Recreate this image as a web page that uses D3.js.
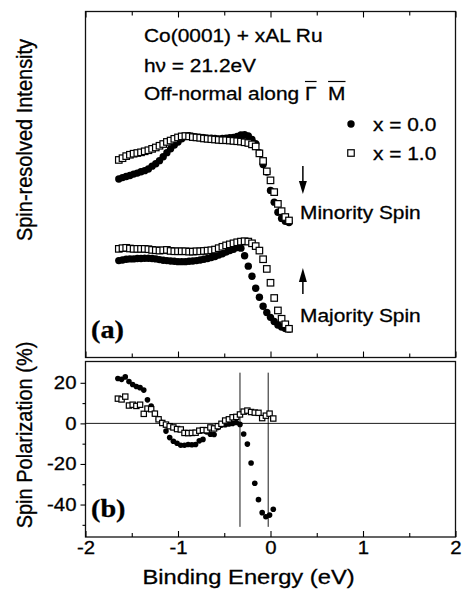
<!DOCTYPE html>
<meta charset="utf-8">
<script src="https://d3js.org/d3.v7.min.js"></script>
<style>
  body { margin: 0; background: #fff; }
  text { font-family: "Liberation Sans", Arial, sans-serif; fill: #000; stroke: #000; stroke-width: 0.3px; }
</style>
<div id="chart"></div>
<script>

// ---- data ----
// binding energy (eV) of the spin-resolved spectra, panel (a)
var energyTop = [-1.64, -1.60, -1.56, -1.52, -1.48, -1.44, -1.40, -1.36, -1.32, -1.28,
  -1.24, -1.20, -1.16, -1.12, -1.08, -1.04, -1.00, -0.96, -0.92, -0.88,
  -0.84, -0.80, -0.76, -0.72, -0.68, -0.64, -0.60, -0.56, -0.52, -0.48,
  -0.44, -0.40, -0.36, -0.32, -0.28, -0.24, -0.20, -0.16, -0.12, -0.08,
  -0.04, 0.00, 0.04, 0.08, 0.12, 0.16, 0.20];

// intensities (arb. units, 0-100 over the panel height)
var minorityX0 = [51.6, 52.0, 52.3, 52.6, 53.0, 53.3, 53.7, 54.0, 54.5, 55.3,
  56.0, 56.9, 58.0, 59.2, 60.3, 61.4, 62.3, 63.2, 63.9, 64.1,
  63.9, 63.7, 63.6, 63.5, 63.4, 63.4, 63.3, 63.2, 63.3, 63.4,
  63.5, 63.6, 63.9, 64.3, 64.4, 64.0, 63.0, 61.8, 59.2, 55.8,
  53.6, 48.3, 44.9, 42.0, 40.2, 39.4, 39.0];
var minorityX1 = [57.1, 57.6, 58.2, 58.6, 58.9, 59.1, 59.3, 59.6, 59.9, 60.3,
  60.7, 61.2, 61.7, 62.3, 62.7, 63.2, 63.6, 63.9, 64.0, 63.9,
  63.7, 63.6, 63.5, 63.3, 63.2, 63.1, 63.0, 62.9, 62.8, 62.8,
  62.7, 62.6, 62.5, 62.4, 62.2, 62.0, 61.6, 61.0, 59.0, 56.8,
  53.8, 51.2, 47.8, 44.4, 42.3, 40.6, 39.6];
var majorityX0 = [28.0, 28.2, 28.4, 28.5, 28.5, 28.6, 28.6, 28.7, 28.7, 28.6,
  28.5, 28.3, 28.1, 28.0, 27.9, 27.8, 27.7, 27.7, 27.7, 27.8,
  27.9, 28.0, 28.2, 28.4, 28.6, 28.9, 29.2, 29.6, 30.0, 30.5,
  30.9, 31.3, 31.8, 31.6, 29.4, 26.4, 23.5, 20.0, 17.4, 14.8,
  13.0, 11.6, 10.4, 9.4, 8.8, 8.4, 8.2];
var majorityX1 = [31.4, 31.6, 31.7, 31.5, 31.4, 31.4, 31.4, 31.4, 31.3, 31.1,
  31.0, 30.9, 31.0, 31.1, 30.8, 30.7, 30.7, 30.7, 30.7, 30.6,
  30.6, 30.7, 30.7, 30.8, 30.9, 31.0, 31.2, 31.6, 32.0, 32.4,
  32.7, 33.0, 33.3, 33.5, 33.6, 33.5, 33.0, 32.2, 30.9, 28.4,
  25.6, 21.6, 17.2, 13.6, 11.2, 9.6, 8.3];

// panel (b): spin polarization (%)
var energyBottom = [-1.65, -1.61, -1.57, -1.53, -1.49, -1.45, -1.41, -1.37, -1.33, -1.29,
  -1.25, -1.21, -1.17, -1.13, -1.09, -1.05, -1.01, -0.97, -0.93, -0.89,
  -0.85, -0.81, -0.77, -0.73, -0.69, -0.65, -0.61, -0.57, -0.53, -0.49,
  -0.45, -0.41, -0.37, -0.33, -0.29, -0.25, -0.21, -0.17, -0.13, -0.09,
  -0.05, -0.01, 0.03];
var polX0 = [22.1, 21.7, 22.9, 20.6, 19.2, 18.2, 17.6, 16.4, 11.6, 8.6,
  4.8, 2.0, 0.4, -3.8, -7.0, -8.8, -9.8, -10.8, -10.8, -10.4,
  -10.5, -10.4, -8.6, -7.9, -4.2, -5.3, -5.5, -2.0, -0.9, -0.7,
  -0.3, 0.0, 0.4, -0.5, -5.2, -10.2, -19.5, -29.5, -37.6, -44.0,
  -46.0, -45.2, -42.3];
var polX1 = [12.2, 11.8, 13.2, 8.8, 9.2, 8.6, 9.2, 4.7, 7.3, 7.0,
  4.8, 2.0, 0.2, -0.6, -1.4, -2.0, -2.8, -3.0, -4.7, -4.8,
  -4.7, -4.6, -3.6, -3.3, -3.4, -2.0, -2.5, -1.4, -0.2, 1.4,
  2.0, 3.0, 3.2, 4.4, 5.8, 6.3, 5.6, 5.3, 5.2, 2.6,
  3.8, 4.8, 2.4];

var xTicks = [-2, -1, 0, 1, 2];
var xMinorTicks = [-1.5, -0.5, 0.5, 1.5];
var yTicks = [20, 0, -20, -40];
var yMinorTicks = [10, -10, -30, -50];
var markerLines = [-0.33, -0.025];   // vertical guide lines in (b)
var legendLabels = ["x = 0.0", "x = 1.0"];

// ---- layout ----
var width = 464, height = 596;
var sx = 1.13;   // the scanned figure is a little wider than tall
var left = 85.5, right = 455.5;
var topA = 11.5, botA = 357.5, topB = 361.5, botB = 537;

var svg = d3.select("#chart").append("svg")
  .attr("width", width)
  .attr("height", height);

var x = d3.scaleLinear().domain([-2, 2]).range([left, right]);
var yA = d3.scaleLinear().domain([0, 100]).range([botA, topA]);
var yB = d3.scaleLinear().domain([-56, 30.5]).range([botB, topB]);

// text helper: horizontally stretched text
function label(g, px, py, txt, size, anchor) {
  return g.append("text")
    .attr("transform", "translate(" + px + "," + py + ") scale(" + sx + ",1)")
    .attr("text-anchor", anchor || "start")
    .style("font-size", size + "px")
    .text(txt);
}

function ticks(g, axis, vals, len) {
  g.call(axis.tickValues(vals).tickSizeInner(len).tickSizeOuter(0).tickFormat(""));
  g.select(".domain").remove();
  g.selectAll(".tick line").attr("stroke", "#000").attr("stroke-width", 1.1);
}

// ---- panel (a) ----
svg.append("rect")
  .attr("x", left).attr("y", topA)
  .attr("width", right - left).attr("height", botA - topA)
  .attr("fill", "none").attr("stroke", "#111").attr("stroke-width", 1.3);

ticks(svg.append("g").attr("transform", "translate(0," + topA + ")"), d3.axisTop(x), xTicks, -6);
ticks(svg.append("g").attr("transform", "translate(0," + topA + ")"), d3.axisTop(x), xMinorTicks, -4);
ticks(svg.append("g").attr("transform", "translate(0," + botA + ")"), d3.axisBottom(x), xTicks, -6);
ticks(svg.append("g").attr("transform", "translate(0," + botA + ")"), d3.axisBottom(x), xMinorTicks, -4);

var circleA = 3.7, squareA = 6.5;

function dots(g, xs, ys, yScale, r) {
  g.append("g").selectAll("circle")
    .data(ys).enter().append("circle")
      .attr("cx", function(d, i) { return x(xs[i]); })
      .attr("cy", function(d) { return yScale(d); })
      .attr("r", r)
      .attr("fill", "#000");
}
function squares(g, xs, ys, yScale, s) {
  g.append("g").selectAll("rect")
    .data(ys).enter().append("rect")
      .attr("x", function(d, i) { return x(xs[i]) - s / 2; })
      .attr("y", function(d) { return yScale(d) - s / 2; })
      .attr("width", s).attr("height", s)
      .attr("fill", "#fff").attr("stroke", "#000").attr("stroke-width", 1.2);
}

dots(svg, energyTop, minorityX0, yA, circleA);
squares(svg, energyTop, minorityX1, yA, squareA);
dots(svg, energyTop, majorityX0, yA, circleA);
squares(svg, energyTop, majorityX1, yA, squareA);

// annotation text
label(svg, 144, 42, "Co(0001) + xAL Ru", 18.5);
label(svg, 144, 72, "h\u03bd = 21.2eV", 18.5);

var line3 = svg.append("g").attr("transform", "translate(144,100) scale(" + sx + ",1)");
var t3 = line3.append("text").style("font-size", "18.5px");
t3.append("tspan").text("Off-normal along ");
var gam = t3.append("tspan").text("\u0393");
t3.append("tspan").text("\u00a0\u00a0");
var em = t3.append("tspan").text("M");
[gam, em].forEach(function(s) {
  var b = s.node().getBBox();
  line3.append("line")
    .attr("x1", b.x).attr("x2", b.x + b.width)
    .attr("y1", -18.5).attr("y2", -18.5)
    .attr("stroke", "#000").attr("stroke-width", 1.2);
});

// legend
svg.append("circle").attr("cx", 351).attr("cy", 124).attr("r", circleA).attr("fill", "#000");
svg.append("rect").attr("x", 351 - squareA / 2).attr("y", 153 - squareA / 2)
  .attr("width", squareA).attr("height", squareA)
  .attr("fill", "#fff").attr("stroke", "#000").attr("stroke-width", 1.2);
label(svg, 373, 130.5, legendLabels[0], 18.5);
label(svg, 373, 159.5, legendLabels[1], 18.5);

// spin arrows
var ax = x(0.35);
svg.append("line").attr("x1", ax).attr("x2", ax).attr("y1", 166).attr("y2", 182)
  .attr("stroke", "#000").attr("stroke-width", 1.5);
svg.append("path").attr("d", "M" + (ax - 4) + ",181 L" + (ax + 4) + ",181 L" + ax + ",194 Z").attr("fill", "#000");
svg.append("line").attr("x1", ax).attr("x2", ax).attr("y1", 281).attr("y2", 294)
  .attr("stroke", "#000").attr("stroke-width", 1.5);
svg.append("path").attr("d", "M" + (ax - 4) + ",282 L" + (ax + 4) + ",282 L" + ax + ",268 Z").attr("fill", "#000");
label(svg, 300, 219, "Minority Spin", 18.5);
label(svg, 300, 322, "Majority Spin", 18.5);

label(svg, 91, 338, "(a)", 25).style("font-family", "'Liberation Serif', 'Times New Roman', serif").style("font-weight", "bold");

// ---- panel (b) ----
svg.append("rect")
  .attr("x", left).attr("y", topB)
  .attr("width", right - left).attr("height", botB - topB)
  .attr("fill", "none").attr("stroke", "#111").attr("stroke-width", 1.3);

svg.append("line")
  .attr("x1", left).attr("x2", right)
  .attr("y1", yB(0)).attr("y2", yB(0))
  .attr("stroke", "#000").attr("stroke-width", 0.9);

svg.append("g").selectAll("line")
  .data(markerLines).enter().append("line")
    .attr("x1", function(d) { return x(d); })
    .attr("x2", function(d) { return x(d); })
    .attr("y1", yB(25)).attr("y2", yB(-51))
    .attr("stroke", "#000").attr("stroke-width", 0.9);

var xAxis = svg.append("g").attr("transform", "translate(0," + botB + ")")
  .call(d3.axisBottom(x).tickValues(xTicks).tickSizeInner(-6).tickSizeOuter(0)
    .tickPadding(4).tickFormat(function(d) { return String(d); }));
xAxis.select(".domain").remove();
ticks(svg.append("g").attr("transform", "translate(0," + botB + ")"), d3.axisBottom(x), xMinorTicks, -4);

var yAxis = svg.append("g").attr("transform", "translate(" + left + ",0)")
  .call(d3.axisLeft(yB).tickValues(yTicks).tickSizeInner(5).tickSizeOuter(0)
    .tickPadding(3).tickFormat(function(d) { return String(d); }));
yAxis.select(".domain").remove();
ticks(svg.append("g").attr("transform", "translate(" + left + ",0)"), d3.axisLeft(yB), yMinorTicks, 3);

[xAxis, yAxis].forEach(function(a) {
  a.selectAll(".tick line").attr("stroke", "#000").attr("stroke-width", 1.1);
  a.selectAll(".tick text")
    .attr("fill", "#000")
    .style("font-size", "18px")
    .style("font-family", "'Liberation Sans', Arial, sans-serif")
    .attr("transform", "scale(" + sx + ",1)");
});

dots(svg, energyBottom, polX0, yB, 2.8);
squares(svg, energyBottom, polX1, yB, 5.3);

label(svg, 91, 517, "(b)", 25).style("font-family", "'Liberation Serif', 'Times New Roman', serif").style("font-weight", "bold");

// axis titles
label(svg, (left + right) / 2 - 22, 584, "Binding Energy (eV)", 21, "middle");

svg.append("text")
  .attr("transform", "translate(32,140) scale(" + sx + ",1) rotate(-90)")
  .attr("text-anchor", "middle")
  .style("font-size", "20px")
  .text("Spin-resolved Intensity");
svg.append("text")
  .attr("transform", "translate(32,435) scale(" + sx + ",1) rotate(-90)")
  .attr("text-anchor", "middle")
  .style("font-size", "20px")
  .text("Spin Polarization (%)");

</script>
